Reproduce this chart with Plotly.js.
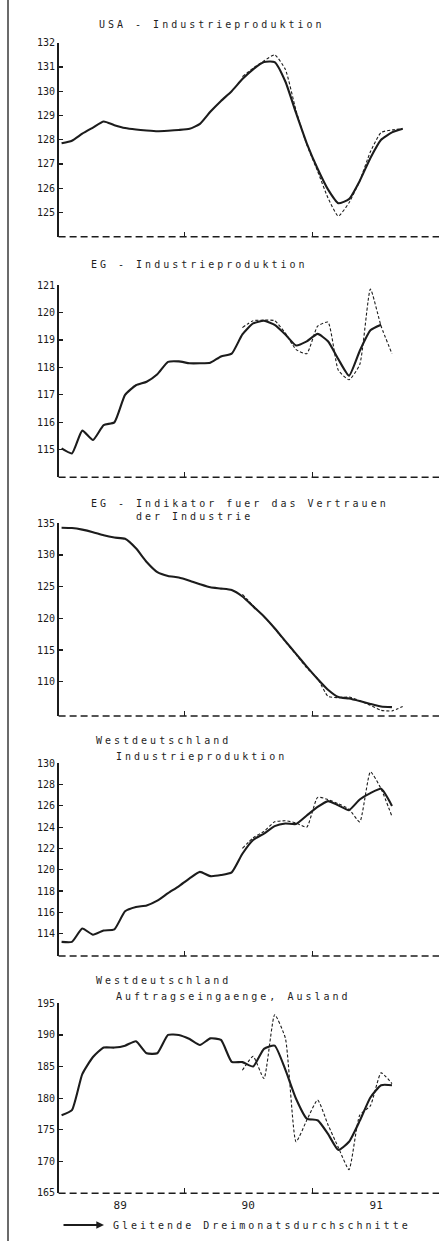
<!DOCTYPE html>
<html>
<head>
<meta charset="utf-8">
<script src="https://cdn.plot.ly/plotly-3.0.1.min.js"></script>
<style>html,body{margin:0;padding:0;background:#fff;}#chart{width:439px;height:1241px;}</style>
</head>
<body>
<div id="chart"></div>
<script>
// Months (monthly observations, Jan 1989 - Sep 1991)
const months = ['1989-01','1989-02','1989-03','1989-04','1989-05','1989-06','1989-07','1989-08','1989-09','1989-10','1989-11','1989-12',
                '1990-01','1990-02','1990-03','1990-04','1990-05','1990-06','1990-07','1990-08','1990-09','1990-10','1990-11','1990-12',
                '1991-01','1991-02','1991-03','1991-04','1991-05','1991-06','1991-07','1991-08','1991-09'];

// Panel titles
const titles = {
  usa: ['USA - Industrieproduktion'],
  egInd: ['EG - Industrieproduktion'],
  egVert: ['EG - Indikator fuer das Vertrauen', 'der Industrie'],
  wdInd: ['Westdeutschland', 'Industrieproduktion'],
  wdAuf: ['Westdeutschland', 'Auftragseingaenge, Ausland']
};
const legendText = 'Gleitende Dreimonatsdurchschnitte';

// USA - Industrieproduktion
const usaAvg = [127.85,127.96,128.25,128.5,128.75,128.6,128.48,128.42,128.38,128.35,128.37,128.4,
                128.45,128.65,129.15,129.6,130.0,130.5,130.9,131.2,131.2,130.4,129.1,127.85,
                126.8,125.95,125.38,125.55,126.3,127.25,128.0,128.3,128.45];
const usaMonthly = [null,null,null,null,null,null,null,null,null,null,null,null,
                null,null,null,null,null,130.6,130.95,131.25,131.5,130.9,129.2,127.8,
                126.7,125.6,124.85,125.4,126.3,127.5,128.3,128.4,128.45];

// EG - Industrieproduktion
const egIndAvg = [115.05,114.87,115.7,115.36,115.9,116.0,117.0,117.35,117.48,117.75,118.2,118.22,
                  118.15,118.15,118.17,118.4,118.5,119.2,119.6,119.7,119.55,119.2,118.8,118.95,
                  119.22,118.95,118.3,117.7,118.6,119.35,119.55,null,null];
const egIndMonthly = [null,null,null,null,null,null,null,null,null,null,null,null,
                  null,null,null,null,null,119.45,119.7,119.72,119.7,119.25,118.65,118.5,
                  119.5,119.65,117.9,117.55,118.1,120.85,119.5,118.5,null];

// EG - Indikator fuer das Vertrauen der Industrie
const egVertAvg = [134.3,134.25,134.0,133.6,133.1,132.75,132.55,131.05,128.9,127.3,126.7,126.45,
                   125.95,125.4,124.9,124.7,124.47,123.45,121.9,120.3,118.45,116.4,114.4,112.4,
                   110.45,108.75,107.6,107.35,106.95,106.5,106.1,106.0,null];
const egVertMonthly = [null,null,null,null,null,null,null,null,null,null,null,null,
                   null,null,null,null,null,123.8,122.0,120.3,118.4,116.3,114.3,112.2,
                   110.5,107.7,107.5,107.6,107.0,106.3,105.5,105.4,106.1];

// Westdeutschland - Industrieproduktion
const wdIndAvg = [113.23,113.23,114.48,113.9,114.3,114.4,116.1,116.5,116.65,117.1,117.8,118.45,
                  119.2,119.8,119.4,119.5,119.75,121.5,122.8,123.4,124.1,124.35,124.3,125.1,
                  125.9,126.45,126.05,125.6,126.6,127.2,127.6,126.0,null];
const wdIndMonthly = [null,null,null,null,null,null,null,null,null,null,null,null,
                  null,null,null,null,null,122.0,123.0,123.6,124.5,124.6,124.4,124.0,
                  126.8,126.6,126.2,125.7,124.5,129.2,127.6,125.0,null];

// Westdeutschland - Auftragseingaenge, Ausland
const wdAufAvg = [177.3,178.1,183.8,186.5,188.0,188.0,188.3,189.0,187.1,187.1,190.0,190.0,
                  189.35,188.4,189.45,189.2,185.75,185.7,185.0,187.8,188.3,184.5,179.9,176.77,
                  176.5,174.35,171.8,173.1,176.4,180.1,182.05,182.05,null];
const wdAufMonthly = [null,null,null,null,null,null,null,null,null,null,null,null,
                  null,null,null,null,null,184.4,186.6,183.1,193.2,189.5,173.1,176.5,
                  179.7,175.8,172.2,168.7,177.3,178.8,184.0,182.3,null];

// y-axis tick values
const usaTicks = [125,126,127,128,129,130,131,132];
const egIndTicks = [115,116,117,118,119,120,121];
const egVertTicks = [110,115,120,125,130,135];
const wdIndTicks = [114,116,118,120,122,124,126,128,130];
const wdAufTicks = [165,170,175,180,185,190,195];

const H = 1241, W = 439;
const ink = '#1c1c1c';
const mono = 'DejaVu Sans Mono';

const panels = [
  {avg: usaAvg, mon: usaMonthly, ticks: usaTicks, range: [124, 132], top: 42.7, bottom: 236.7},
  {avg: egIndAvg, mon: egIndMonthly, ticks: egIndTicks, range: [114, 121], top: 285, bottom: 477.3},
  {avg: egVertAvg, mon: egVertMonthly, ticks: egVertTicks, range: [104.6, 135], top: 523.3, bottom: 716},
  {avg: wdIndAvg, mon: wdIndMonthly, ticks: wdIndTicks, range: [111.9, 130], top: 763.3, bottom: 956},
  {avg: wdAufAvg, mon: wdAufMonthly, ticks: wdAufTicks, range: [164.95, 195], top: 1003.3, bottom: 1193.3}
];

const xDomain = [58.6 / W, 437.4 / W];
const xRange = ['1989-01-08', '1991-12-24'];

const data = [];
const layout = {
  width: W, height: H,
  margin: {l: 0, r: 0, t: 0, b: 0},
  paper_bgcolor: '#fff', plot_bgcolor: '#fff',
  showlegend: false,
  shapes: [], annotations: []
};

panels.forEach((p, k) => {
  const n = k === 0 ? '' : String(k + 1);
  const xa = 'x' + n, ya = 'y' + n;
  data.push({
    x: months, y: p.mon, xaxis: xa, yaxis: ya, type: 'scatter', mode: 'lines',
    xperiod: 'M1', xperiodalignment: 'middle', connectgaps: false,
    line: {color: ink, width: 1.1, dash: '3px,2px', shape: 'spline', smoothing: 0.5},
    hoverinfo: 'skip'
  });
  data.push({
    x: months, y: p.avg, xaxis: xa, yaxis: ya, type: 'scatter', mode: 'lines',
    xperiod: 'M1', xperiodalignment: 'middle', connectgaps: false,
    line: {color: ink, width: 2.1, shape: 'spline', smoothing: 0.5},
    hoverinfo: 'skip'
  });
  const isLast = k === panels.length - 1;
  const xaxis = {
    domain: xDomain, range: xRange, type: 'date', anchor: ya,
    showgrid: false, zeroline: false, showline: false,
    ticks: 'inside', ticklen: 5, tickwidth: 1.2, tickcolor: ink
  };
  if (isLast) {
    Object.assign(xaxis, {
      tickmode: 'linear', tick0: '1989-01-01', dtick: 'M12', tickformat: '%y',
      ticklabelmode: 'period', showticklabels: true, ticklabelstandoff: 4,
      tickfont: {family: mono, size: 11, color: ink}
    });
  } else {
    Object.assign(xaxis, {tickmode: 'array', tickvals: ['1990-01-01', '1991-01-01'], showticklabels: false});
  }
  layout['xaxis' + n] = xaxis;
  layout['yaxis' + n] = {
    domain: [1 - p.bottom / H, 1 - p.top / H], range: p.range, anchor: xa,
    showgrid: false, zeroline: false, showline: true, linecolor: ink, linewidth: 1.5,
    ticks: 'inside', ticklen: 4, tickwidth: 1.2, tickcolor: ink,
    tickmode: 'array', tickvals: p.ticks,
    tickfont: {family: mono, size: 10, color: ink}
  };
  // dashed baseline (x axis line)
  layout.shapes.push({
    type: 'line', xref: 'paper', yref: ya + ' domain', x0: xDomain[0], x1: 1, y0: 0, y1: 0,
    line: {color: ink, width: 1.5, dash: '7px,4px'}
  });
});

// left page border
layout.shapes.push({type: 'line', xref: 'paper', yref: 'paper', x0: 8 / W, x1: 8 / W, y0: 0, y1: 1,
  line: {color: '#3a3a3a', width: 1.5}});

// titles: [text, left px, center y px]
const titleSpecs = [
  [titles.usa[0], 97, 25],
  [titles.egInd[0], 89, 265],
  [titles.egVert[0], 89, 503.5],
  [titles.egVert[1], 134, 516.5],
  [titles.wdInd[0], 94, 740.7],
  [titles.wdInd[1], 114, 756],
  [titles.wdAuf[0], 94, 980.7],
  [titles.wdAuf[1], 114, 996],
  [legendText, 111, 1225]
];
titleSpecs.forEach(t => {
  layout.annotations.push({
    text: t[0], xref: 'paper', yref: 'paper', x: t[1] / W, y: 1 - t[2] / H,
    xanchor: 'left', yanchor: 'middle', showarrow: false, align: 'left',
    font: {family: mono, size: 10, color: '#1e1e1e'}
  });
});

// legend arrow
layout.annotations.push({
  text: '', xref: 'paper', yref: 'paper', x: 104 / W, y: 1 - 1225 / H,
  ax: -42, ay: 0, showarrow: true, arrowhead: 2, arrowsize: 0.7, arrowwidth: 2.2,
  arrowcolor: ink, standoff: 0
});

Plotly.newPlot('chart', data, layout, {staticPlot: true, displayModeBar: false}).then(() => {
  // wide typewriter-like spacing of the printed titles
  document.querySelectorAll('#chart .annotation-text').forEach(el => {
    el.style.letterSpacing = '3px';
  });
});
</script>
</body>
</html>
